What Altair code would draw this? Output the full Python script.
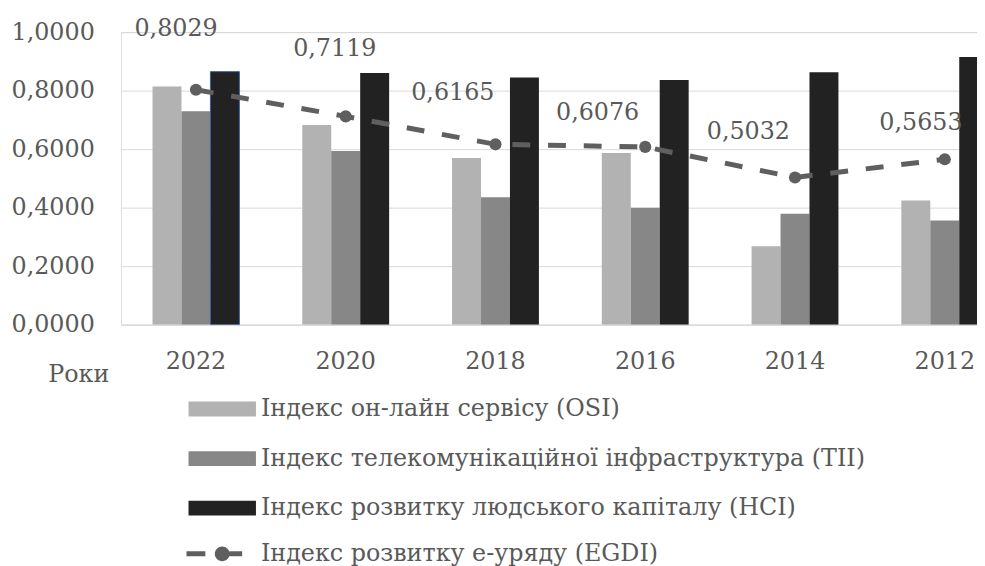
import altair as alt
import pandas as pd

# ---- data ----
years = ["2022", "2020", "2018", "2016", "2014", "2012"]
osi = [0.8139, 0.6824, 0.5694, 0.5870, 0.2677, 0.4248]
tii = [0.7298, 0.5933, 0.4353, 0.3993, 0.3795, 0.3563]
hci = [0.8649, 0.8600, 0.8448, 0.8365, 0.8624, 0.9148]
egdi = [0.8029, 0.7119, 0.6165, 0.6076, 0.5032, 0.5653]
series_names = [
    "Індекс он-лайн сервісу (OSI)",
    "Індекс телекомунікаційної інфраструктура (TII)",
    "Індекс розвитку людського капіталу (HCI)",
    "Індекс розвитку е-уряду (EGDI)",
]
y_ticks = [0.0, 0.2, 0.4, 0.6, 0.8, 1.0]

# ---- styling ----
FONT = "DejaVu Serif"
FS = 24
TXT = "#595959"
GRID = "#d9d9d9"
bar_colors = ["#b2b2b2", "#878787", "#222222"]
line_color = "#5f5f5f"
# label (dx, dy) offsets for the EGDI value labels (manual placements in the original)
label_shift = [(-20, -54), (-11, -61), (-43, -45), (-48, -27), (-47, -39), (-24, -30)]

rows = []
for i, yr in enumerate(years):
    for s, vals in zip(series_names[:3], [osi, tii, hci]):
        rows.append({"year": yr, "series": s, "value": vals[i]})
bars_df = pd.DataFrame(rows)
line_df = pd.DataFrame({"year": years, "value": egdi, "series": [series_names[3]] * len(years)})

rect_path = "M-2,-0.44H2V0.44H-2Z"
line_path = ("M-2.12,-0.15H-1V0.15H-2.12Z "
             "M-0.44,0A0.44,0.44 0 1,1 0.44,0A0.44,0.44 0 1,1 -0.44,0Z "
             "M0.42,-0.15H1.18V0.15H0.42Z")

x_enc = alt.X(
    "year:N",
    sort=years,
    scale=alt.Scale(range=[0, 906], paddingInner=0.42, paddingOuter=0.21),
    axis=alt.Axis(
        title="Роки", labelAngle=0, labelFont=FONT, labelFontSize=FS, labelColor=TXT,
        labelPadding=44, labelBaseline="alphabetic", ticks=False,
        domainColor=GRID, domainWidth=1,
        titleFont=FONT, titleFontSize=FS, titleColor=TXT, titleFontWeight="normal",
        titleX=-74, titleY=57, titleAlign="left", titleBaseline="alphabetic",
    ),
)
y_enc = alt.Y(
    "value:Q",
    scale=alt.Scale(domain=[0, 1], nice=False),
    axis=alt.Axis(
        title=None, values=y_ticks,
        labelExpr="replace(format(datum.value, '.4f'), '.', ',')",
        labelFont=FONT, labelFontSize=FS, labelColor=TXT, labelPadding=27,
        ticks=False, domain=False, grid=True, gridColor=GRID, gridWidth=1,
    ),
)

legend_common = dict(
    orient="none", title=None, labelFont=FONT, labelFontSize=FS, labelColor=TXT,
    labelLimit=900, symbolSize=1156, symbolStrokeWidth=0, labelOffset=22,
    padding=0, rowPadding=21, legendX=85,
)

bars = alt.Chart(bars_df).mark_bar(clip=True, strokeWidth=1).encode(
    x=x_enc,
    xOffset=alt.XOffset("series:N", sort=series_names[:3], scale=alt.Scale(paddingInner=0, paddingOuter=0)),
    y=y_enc,
    color=alt.Color(
        "series:N",
        scale=alt.Scale(domain=series_names[:3], range=bar_colors),
        legend=alt.Legend(symbolType=rect_path, legendY=363, **legend_common),
    ),
    stroke=alt.condition(
        (alt.datum.year == "2022") & (alt.datum.series == series_names[2]),
        alt.value("#3b5ea8"), alt.value("transparent"),
    ),
)

line = alt.Chart(line_df).mark_line(
    color=line_color, strokeWidth=5, strokeDash=[18, 18]
).encode(x=alt.X("year:N", sort=years), y=alt.Y("value:Q"))

points = alt.Chart(line_df).mark_point(filled=True, size=150, opacity=1, strokeWidth=0).encode(
    x=alt.X("year:N", sort=years),
    y=alt.Y("value:Q"),
    fill=alt.Fill(
        "series:N",
        scale=alt.Scale(domain=[series_names[3]], range=[line_color]),
        legend=alt.Legend(symbolType=line_path, legendY=509, **legend_common),
    ),
)

labels = []
for yr, (dx, dy) in zip(years, label_shift):
    labels.append(
        alt.Chart(line_df)
        .transform_filter(alt.datum.year == yr)
        .transform_calculate(lbl="replace(format(datum.value, '.4f'), '.', ',')")
        .mark_text(font=FONT, fontSize=FS, color=TXT, align="center",
                   baseline="alphabetic", dx=dx, dy=dy)
        .encode(x=alt.X("year:N", sort=years), y=alt.Y("value:Q"), text="lbl:N")
    )

chart = alt.layer(bars, line, points, *labels).resolve_scale(
    color="independent"
).properties(
    width=863, height=295,
    autosize=alt.AutoSizeParams(type="none"),
    padding={"left": 114, "top": 22, "right": 0, "bottom": 241},
).configure_view(stroke=None).configure(background="white", font=FONT)

chart.save("out.html", embed_options={"renderer": "svg", "actions": False})
